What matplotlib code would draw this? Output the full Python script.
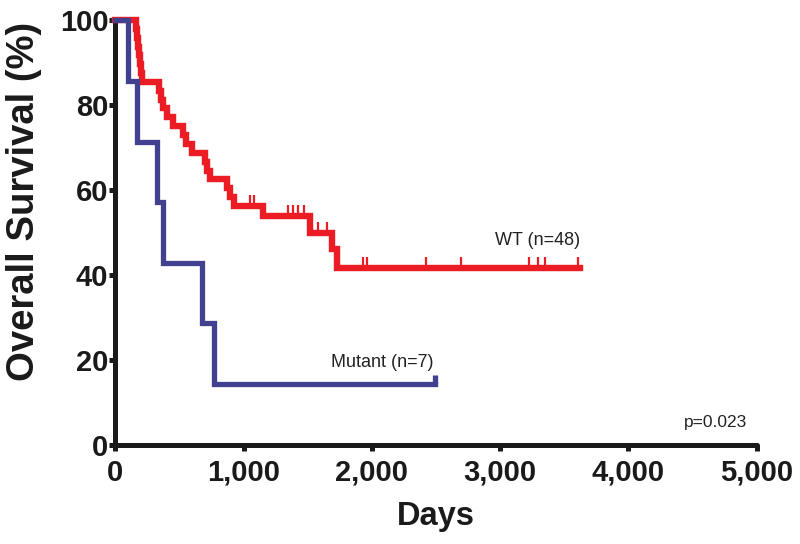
import matplotlib
matplotlib.use("Agg")
import matplotlib.pyplot as plt
from matplotlib.ticker import FuncFormatter

# ---- data ----
wt_times = [0, 163, 170, 178, 186, 194, 202, 212, 345, 360, 375, 400, 450, 525, 548, 600, 700, 718, 740, 872, 895, 925, 1153, 1519, 1690, 1729]
wt_surv = [100, 97.9, 95.8, 93.75, 91.7, 89.6, 87.5, 85.4, 83.3, 81.25, 79.2, 77.1, 75.0, 72.9, 70.8, 68.75, 66.7, 64.6, 62.5, 60.4, 58.3, 56.25, 54.0, 50.0, 46.2, 41.6]
wt_end = 3621
wt_censor = [1051, 1083, 1347, 1386, 1425, 1472, 1581, 1651, 1931, 1966, 2422, 2695, 3224, 3294, 3349, 3606]

mut_times = [0, 101, 171, 327, 374, 678, 771]
mut_surv = [100, 85.7, 71.4, 57.1, 42.9, 28.6, 14.3]
mut_end = 2492
mut_censor = [2492]

x_ticks = [0, 1000, 2000, 3000, 4000, 5000]
y_ticks = [0, 20, 40, 60, 80, 100]

RED = "#ec1c24"
BLUE = "#41418f"
INK = "#1a1a1a"

bold_font = ["Liberation Sans", "DejaVu Sans"]
reg_font = ["Liberation Sans", "DejaVu Sans"]


def surv_at(times, surv, t):
    s = surv[0]
    for ti, si in zip(times, surv):
        if ti <= t:
            s = si
    return s


fig = plt.figure(figsize=(8, 5.44), dpi=100)
ax = fig.add_axes([0.144, 0.182, 0.802, 0.781])

# WT curve
ax.step(wt_times + [wt_end], wt_surv + [wt_surv[-1]], where="post",
        color=RED, lw=4.6, solid_joinstyle="miter", clip_on=False, zorder=3)
for c in wt_censor:
    s = surv_at(wt_times, wt_surv, c)
    ax.vlines(c, s, s + 2.6, color=RED, lw=1.6, zorder=3, clip_on=False)

# Mutant curve
ax.step(mut_times + [mut_end], mut_surv + [mut_surv[-1]], where="post",
        color=BLUE, lw=3.8, solid_joinstyle="miter", clip_on=False, zorder=4)
for c in mut_censor:
    s = surv_at(mut_times, mut_surv, c)
    ax.vlines(c, s, s + 2.2, color=BLUE, lw=3.8, zorder=4, clip_on=False)

ax.set_xlim(0, 5000)
ax.set_ylim(0, 100)
ax.set_xticks(x_ticks)
ax.set_yticks(y_ticks)
ax.xaxis.set_major_formatter(FuncFormatter(lambda v, p: f"{int(v):,}"))

for side in ["top", "right"]:
    ax.spines[side].set_visible(False)
for side in ["left", "bottom"]:
    ax.spines[side].set_linewidth(3.6)
    ax.spines[side].set_color(INK)
    ax.spines[side].set_capstyle("round")

ax.tick_params(axis="both", which="major", length=4, width=3.6, color=INK,
               direction="out")
ax.tick_params(axis="y", pad=1)
ax.tick_params(axis="x", pad=6)
for lab in ax.get_xticklabels() + ax.get_yticklabels():
    lab.set_fontfamily(bold_font)
    lab.set_fontweight("bold")
    lab.set_fontsize(21)
    lab.set_color(INK)

fig.text(436 / 800, 1 - 517 / 544, "Days", fontsize=23.5, fontweight="bold",
         family=bold_font, color=INK, ha="center", va="center")
fig.text(24 / 800, 1 - 201 / 544, "Overall Survival (%)", fontsize=27.5,
         fontweight="bold", family=bold_font, color=INK, rotation=90,
         ha="center", va="center")

ax.text(wt_end, 48.2, "WT (n=48)", ha="right", va="center", fontsize=13,
        family=reg_font, color="#222222")
ax.text(2477, 19.5, "Mutant (n=7)", ha="right", va="center", fontsize=13,
        family=reg_font, color="#222222")
ax.text(4681, 5.2, "p=0.023", ha="center", va="center", fontsize=12.5,
        family=reg_font, color="#222222")

fig.savefig("out.png", dpi=100)
